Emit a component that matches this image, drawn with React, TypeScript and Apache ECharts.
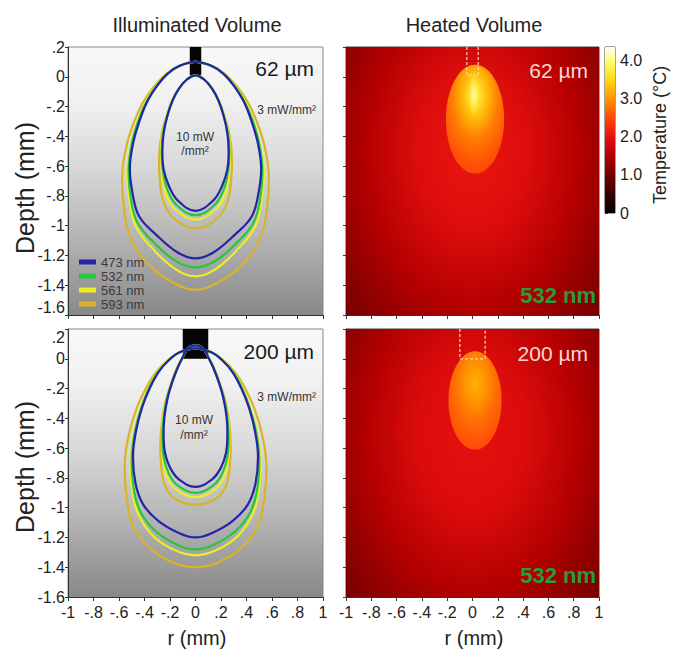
import React, { useEffect, useRef } from 'react';
import * as echarts from 'echarts';

// ---------- data ----------
const wavelengths = ['473 nm', '532 nm', '561 nm', '593 nm'];
const lineColors = ['#2424a8', '#24c83c', '#eeee24', '#d8b426'];

// contour right halves [r (mm), depth (mm)], top -> bottom; panel A = 62 µm fibre
const a3_473 = [[0, 0.1], [0.12, 0.075], [0.22, 0.02], [0.3, -0.06], [0.38, -0.17], [0.44, -0.3], [0.49, -0.45], [0.515, -0.62], [0.49, -0.8], [0.44, -0.94], [0.31, -1.06], [0.14, -1.18], [0, -1.22]];
const a3_532 = [[0, 0.1], [0.12, 0.075], [0.22, 0.02], [0.305, -0.06], [0.385, -0.17], [0.45, -0.3], [0.5, -0.45], [0.525, -0.63], [0.505, -0.83], [0.455, -0.98], [0.33, -1.11], [0.15, -1.24], [0, -1.28]];
const a3_561 = [[0, 0.1], [0.12, 0.075], [0.225, 0.02], [0.31, -0.06], [0.39, -0.17], [0.455, -0.3], [0.505, -0.46], [0.535, -0.64], [0.515, -0.85], [0.465, -1.01], [0.34, -1.15], [0.16, -1.29], [0, -1.34]];
const a3_593 = [[0, 0.1], [0.12, 0.075], [0.23, 0.02], [0.32, -0.06], [0.41, -0.17], [0.48, -0.3], [0.54, -0.46], [0.575, -0.66], [0.56, -0.89], [0.51, -1.08], [0.38, -1.25], [0.18, -1.38], [0, -1.43]];
const a10_473 = [[0, 0.01], [0.07, -0.02], [0.13, -0.08], [0.18, -0.16], [0.22, -0.26], [0.25, -0.38], [0.26, -0.5], [0.25, -0.62], [0.21, -0.73], [0.14, -0.83], [0, -0.9]];
const a10_532 = [[0, 0.01], [0.07, -0.02], [0.13, -0.08], [0.18, -0.16], [0.22, -0.26], [0.255, -0.38], [0.265, -0.51], [0.255, -0.64], [0.22, -0.76], [0.15, -0.86], [0, -0.93]];
const a10_561 = [[0, 0.01], [0.07, -0.02], [0.13, -0.08], [0.18, -0.16], [0.22, -0.26], [0.26, -0.38], [0.27, -0.52], [0.26, -0.66], [0.23, -0.79], [0.16, -0.89], [0, -0.96]];
const a10_593 = [[0, 0.01], [0.07, -0.02], [0.13, -0.08], [0.185, -0.16], [0.225, -0.26], [0.265, -0.38], [0.285, -0.53], [0.28, -0.69], [0.25, -0.84], [0.17, -0.95], [0, -1.02]];
// panel B = 200 µm fibre
const b3_473 = [[0, 0.07], [0.12, 0.045], [0.21, -0.01], [0.29, -0.09], [0.36, -0.2], [0.42, -0.33], [0.465, -0.48], [0.49, -0.65], [0.47, -0.84], [0.41, -0.98], [0.29, -1.09], [0.13, -1.17], [0, -1.2]];
const b3_532 = [[0, 0.07], [0.12, 0.045], [0.21, -0.01], [0.295, -0.09], [0.365, -0.2], [0.425, -0.33], [0.475, -0.49], [0.5, -0.67], [0.485, -0.87], [0.43, -1.03], [0.31, -1.16], [0.14, -1.25], [0, -1.28]];
const b3_561 = [[0, 0.07], [0.12, 0.045], [0.215, -0.01], [0.3, -0.09], [0.37, -0.2], [0.43, -0.33], [0.48, -0.49], [0.51, -0.68], [0.495, -0.89], [0.44, -1.06], [0.32, -1.2], [0.15, -1.29], [0, -1.32]];
const b3_593 = [[0, 0.07], [0.12, 0.045], [0.22, -0.01], [0.31, -0.09], [0.39, -0.2], [0.46, -0.33], [0.52, -0.5], [0.555, -0.7], [0.54, -0.93], [0.49, -1.12], [0.36, -1.27], [0.17, -1.37], [0, -1.4]];
const b10_473 = [[0, 0.09], [0.06, 0.07], [0.1, 0.01], [0.14, -0.06], [0.18, -0.15], [0.22, -0.27], [0.245, -0.4], [0.25, -0.52], [0.24, -0.63], [0.2, -0.73], [0.13, -0.81], [0, -0.86]];
const b10_532 = [[0, 0.09], [0.06, 0.07], [0.1, 0.01], [0.14, -0.06], [0.18, -0.15], [0.225, -0.27], [0.25, -0.4], [0.26, -0.53], [0.25, -0.66], [0.21, -0.77], [0.14, -0.85], [0, -0.9]];
const b10_561 = [[0, 0.09], [0.06, 0.07], [0.1, 0.01], [0.14, -0.06], [0.18, -0.15], [0.225, -0.27], [0.255, -0.4], [0.265, -0.54], [0.255, -0.68], [0.22, -0.8], [0.15, -0.88], [0, -0.93]];
const b10_593 = [[0, 0.09], [0.06, 0.07], [0.1, 0.01], [0.145, -0.06], [0.185, -0.15], [0.23, -0.27], [0.26, -0.4], [0.275, -0.55], [0.27, -0.71], [0.24, -0.85], [0.16, -0.94], [0, -0.98]];

// fibre: [radius (mm), tip depth (mm)]
const fiberA = [0.045, 0.01];
const fiberB = [0.1, 0.0];

// temperature colormap [°C, colour]
const tempStops: [number, string][] = [
  [0, '#000000'], [0.5, '#380000'], [1, '#740000'], [1.5, '#b40000'], [2, '#e81010'],
  [2.5, '#ff4a08'], [3, '#ff9600'], [3.5, '#ffda10'], [4, '#ffff70'], [4.35, '#ffffff'],
];
const colorbarMax = 4.35;
const colorbarTicks = [0, 1, 2, 3, 4];

// heat layers: ellipse [r, depth, rx, ry] and temperatures (°C) at the gradient stops
const glowShapeA = [0, -0.5, 1.4, 1.75];
const glowTempsA = [2.05, 1.9, 1.5, 1.15, 0.95];
const hotShapeA = [0.02, -0.285, 0.23, 0.365];
const hotTempsA = [3.9, 3.3, 2.85, 2.55, 2.45];
const coreShapeA = [0.01, -0.12, 0.045, 0.17];
const coreTempsA = [4.2, 3.9, 3.6];
const glowShapeB = [0, -0.5, 1.4, 1.75];
const glowTempsB = [2.0, 1.88, 1.5, 1.15, 0.95];
const hotShapeB = [0.02, -0.28, 0.21, 0.33];
const hotTempsB = [3.2, 3.0, 2.75, 2.55, 2.45];
const baseTemp = 0.9;

// ---------- helpers ----------
const FONT = '"Liberation Sans", Arial, Helvetica, sans-serif';

function hexToRgb(h: string) {
  const n = parseInt(h.slice(1), 16);
  return [(n >> 16) & 255, (n >> 8) & 255, n & 255];
}
function colorOf(t: number, a = 1) {
  let i = 0;
  while (i < tempStops.length - 2 && t > tempStops[i + 1][0]) i++;
  const [t0, c0] = tempStops[i];
  const [t1, c1] = tempStops[i + 1];
  const f = Math.max(0, Math.min(1, (t - t0) / (t1 - t0)));
  const A = hexToRgb(c0), B = hexToRgb(c1);
  const c = A.map((v, k) => Math.round(v + (B[k] - v) * f));
  return `rgba(${c[0]},${c[1]},${c[2]},${a})`;
}
// right half (top -> bottom) + mirrored left half (bottom -> top), without repeating the ends
function closedLoop(half: number[][]) {
  const left = half.slice(1, -1).reverse().map(([r, d]) => [-r, d]);
  return half.concat(left);
}
function tickFmt(v: number) {
  const x = Math.round(v * 10) / 10;
  if (x === 0) return '0';
  return String(x).replace(/^(-?)0\./, '$1.');
}

const grids = [
  { left: 68, top: 47, width: 255, height: 268 },
  { left: 68, top: 329, width: 255, height: 268 },
  { left: 346, top: 47, width: 253, height: 268 },
  { left: 346, top: 329, width: 253, height: 268 },
  { left: 605, top: 47, width: 10, height: 166 },
];

const grayBg = new echarts.graphic.LinearGradient(0, 0, 0, 1, [
  { offset: 0, color: '#f8f8f8' },
  { offset: 0.2, color: '#f1f1f1' },
  { offset: 0.45, color: '#d8d8d8' },
  { offset: 0.7, color: '#b6b6b6' },
  { offset: 1, color: '#888888' },
]);

function contourSeries(gridIndex: number, sets: number[][][][]) {
  const out: any[] = [];
  [3, 2, 1, 0].forEach((k) => {
    sets[k].forEach((half) => {
      const loop = closedLoop(half);
      out.push({
        type: 'custom',
        name: wavelengths[k],
        xAxisIndex: gridIndex,
        yAxisIndex: gridIndex,
        data: loop,
        silent: true,
        z: 3,
        itemStyle: { color: lineColors[k] },
        renderItem: (params: any, api: any) => {
          if (params.dataIndex !== 0) return null;
          const pts = loop.map((p) => api.coord(p));
          return {
            type: 'polygon',
            shape: { points: pts, smooth: 0.4 },
            style: { fill: 'none', stroke: lineColors[k], lineWidth: 2.2 },
          };
        },
      });
    });
  });
  return out;
}

function fiberSeries(gridIndex: number, fiber: number[]) {
  return {
    type: 'custom',
    name: 'fiber',
    xAxisIndex: gridIndex,
    yAxisIndex: gridIndex,
    silent: true,
    z: 2,
    data: [[-fiber[0], 0.2, fiber[0], fiber[1]]],
    renderItem: (params: any, api: any) => {
      const p0 = api.coord([api.value(0), api.value(1)]);
      const p1 = api.coord([api.value(2), api.value(3)]);
      return {
        type: 'rect',
        shape: { x: p0[0], y: p0[1], width: p1[0] - p0[0], height: p1[1] - p0[1] },
        style: { fill: '#050505' },
      };
    },
  };
}

function fiberOutline(gridIndex: number, fiber: number[]) {
  return {
    type: 'line',
    name: 'fiber outline',
    xAxisIndex: gridIndex,
    yAxisIndex: gridIndex,
    data: [[-fiber[0], 0.2], [-fiber[0], fiber[1]], [fiber[0], fiber[1]], [fiber[0], 0.2]],
    symbol: 'none',
    silent: true,
    z: 4,
    lineStyle: { color: '#ffd8b8', width: 1.2, type: [3, 2] },
  };
}

const glowOffsets = [0, 0.3, 0.6, 0.85, 1];
const hotOffsets = [0, 0.25, 0.5, 0.8, 1];

function heatSeries(gridIndex: number, layers: any[]) {
  return {
    type: 'custom',
    name: 'heat',
    xAxisIndex: gridIndex,
    yAxisIndex: gridIndex,
    clip: true,
    silent: true,
    z: 1,
    data: layers.map((l) => l.shape),
    renderItem: (params: any, api: any) => {
      const L = layers[params.dataIndex];
      const c = api.coord([api.value(0), api.value(1)]);
      const s = api.size([api.value(2), api.value(3)]);
      const stops = L.temps.map((t: number, i: number) => ({
        offset: L.offsets[i],
        color: colorOf(t, L.alpha ? L.alpha[i] : 1),
      }));
      return {
        type: 'ellipse',
        shape: { cx: c[0], cy: c[1], rx: Math.abs(s[0]), ry: Math.abs(s[1]) },
        style: { fill: new echarts.graphic.RadialGradient(L.focus[0], L.focus[1], L.focus[2], stops) },
      };
    },
  };
}

const layersA = [
  { shape: glowShapeA, temps: glowTempsA, offsets: glowOffsets, focus: [0.5, 0.5, 0.5] },
  { shape: hotShapeA, temps: hotTempsA, offsets: hotOffsets, focus: [0.5, 0.28, 0.78] },
  { shape: coreShapeA, temps: coreTempsA, offsets: [0, 0.5, 1], alpha: [0.9, 0.5, 0], focus: [0.5, 0.5, 0.5] },
];
const layersB = [
  { shape: glowShapeB, temps: glowTempsB, offsets: glowOffsets, focus: [0.5, 0.5, 0.5] },
  { shape: hotShapeB, temps: hotTempsB, offsets: hotOffsets, focus: [0.5, 0.33, 0.75] },
];

function buildOption() {
  const xAxis: any[] = [];
  const yAxis: any[] = [];
  for (let i = 0; i < 4; i++) {
    const bottom = i === 1 || i === 3;
    const left = i < 2;
    xAxis.push({
      gridIndex: i,
      type: 'value',
      min: -1,
      max: 1,
      interval: 0.2,
      axisLine: { show: true, onZero: false, lineStyle: { color: '#333', width: 1 } },
      axisTick: { show: true, length: 4, lineStyle: { color: '#333' } },
      axisLabel: { show: bottom, formatter: tickFmt, fontSize: 16, color: '#222', fontFamily: FONT, margin: 7 },
      splitLine: { show: false },
    });
    yAxis.push({
      gridIndex: i,
      type: 'value',
      min: -1.6,
      max: 0.2,
      interval: 0.2,
      axisLine: { show: true, onZero: false, lineStyle: { color: '#333', width: 1 } },
      axisTick: { show: true, length: 3, lineStyle: { color: '#333' } },
      axisLabel: {
        show: left,
        formatter: tickFmt,
        fontSize: 16,
        color: '#222',
        fontFamily: FONT,
        margin: 3,
        verticalAlignMaxLabel: i === 1 ? 'top' : 'middle',
        verticalAlignMinLabel: i === 0 ? 'bottom' : 'middle',
      },
      splitLine: { show: false },
    });
  }
  xAxis.push({ gridIndex: 4, type: 'value', min: 0, max: 1, show: false });
  yAxis.push({
    gridIndex: 4,
    type: 'value',
    position: 'right',
    min: 0,
    max: colorbarMax,
    axisLine: { show: false },
    axisTick: { show: true, length: 3, customValues: colorbarTicks, lineStyle: { color: '#333' } },
    axisLabel: {
      show: true,
      customValues: colorbarTicks,
      formatter: (v: number) => (v === 0 ? '0' : v.toFixed(1)),
      fontSize: 16,
      color: '#222',
      fontFamily: FONT,
      margin: 5,
    },
    splitLine: { show: false },
  });

  const series: any[] = [
    fiberSeries(0, fiberA),
    fiberSeries(1, fiberB),
    ...contourSeries(0, [[a3_473, a10_473], [a3_532, a10_532], [a3_561, a10_561], [a3_593, a10_593]]),
    ...contourSeries(1, [[b3_473, b10_473], [b3_532, b10_532], [b3_561, b10_561], [b3_593, b10_593]]),
    heatSeries(2, layersA),
    heatSeries(3, layersB),
    fiberOutline(2, fiberA),
    fiberOutline(3, fiberB),
    {
      type: 'custom',
      name: 'colorbar',
      xAxisIndex: 4,
      yAxisIndex: 4,
      silent: true,
      data: [[0]],
      renderItem: (params: any, api: any) => {
        const p0 = api.coord([0, 0]);
        const p1 = api.coord([1, colorbarMax]);
        return {
          type: 'rect',
          shape: { x: p0[0], y: p1[1], width: p1[0] - p0[0], height: p0[1] - p1[1] },
          style: {
            fill: new echarts.graphic.LinearGradient(0, 1, 0, 0,
              tempStops.map(([t, c]) => ({ offset: t / colorbarMax, color: c }))),
          },
        };
      },
    },
  ];

  const txt = (text: string, x: number, y: number, size: number, fill: string, align = 'center', rotation = 0, bold = false) => ({
    type: 'text',
    x,
    y,
    rotation,
    silent: true,
    z: 10,
    style: { text, fill, font: `${bold ? 'bold ' : ''}${size}px ${FONT}`, align, verticalAlign: 'middle' },
  });

  const graphic = [
    txt('Illuminated Volume', 197, 25, 20, '#222'),
    txt('Heated Volume', 474, 25, 20, '#222'),
    txt('Depth (mm)', 25, 188, 25, '#222', 'center', Math.PI / 2),
    txt('Depth (mm)', 25, 467, 25, '#222', 'center', Math.PI / 2),
    txt('r (mm)', 197, 638, 20, '#222'),
    txt('r (mm)', 474, 638, 20, '#222'),
    txt('Temperature (°C)', 660, 135, 18, '#222', 'center', Math.PI / 2),
    txt('62 µm', 314, 68, 21, '#1a1a1a', 'right'),
    txt('200 µm', 314, 351, 21, '#1a1a1a', 'right'),
    txt('62 µm', 588, 70, 21, '#f6d8d0', 'right'),
    txt('200 µm', 588, 353, 21, '#f6d8d0', 'right'),
    txt('3 mW/mm²', 316, 110, 12, '#333', 'right'),
    txt('3 mW/mm²', 316, 397, 12, '#333', 'right'),
    txt('10 mW', 195, 137, 12, '#333'),
    txt('/mm²', 195, 151, 12, '#333'),
    txt('10 mW', 194, 420, 12, '#333'),
    txt('/mm²', 194, 435, 12, '#333'),
    txt('532 nm', 596, 295, 22, '#2a9a3a', 'right', 0, true),
    txt('532 nm', 596, 575, 22, '#2a9a3a', 'right', 0, true),
  ];

  return {
    animation: false,
    backgroundColor: '#ffffff',
    grid: grids.map((g, i) => ({
      ...g,
      show: true,
      borderColor: i < 2 ? '#888' : '#444',
      borderWidth: 1,
      backgroundColor: i < 2 ? grayBg : i < 4 ? colorOf(baseTemp) : 'transparent',
      containLabel: false,
    })),
    xAxis,
    yAxis,
    legend: {
      data: wavelengths,
      orient: 'vertical',
      left: 74,
      top: 250,
      itemGap: 0,
      itemWidth: 17,
      itemHeight: 5,
      icon: 'rect',
      selectedMode: false,
      textStyle: { fontSize: 13, color: '#3a3a3a', fontFamily: FONT, lineHeight: 14 },
    },
    graphic,
    series,
  };
}

export default function App() {
  const ref = useRef<HTMLDivElement>(null);
  useEffect(() => {
    const chart = echarts.init(ref.current!, null, { renderer: 'svg' });
    chart.setOption(buildOption() as any);
    return () => chart.dispose();
  }, []);
  return (
    <div
      ref={ref}
      style={{ position: 'absolute', left: 0, top: 0, width: 678, height: 653, background: '#fff' }}
    />
  );
}
